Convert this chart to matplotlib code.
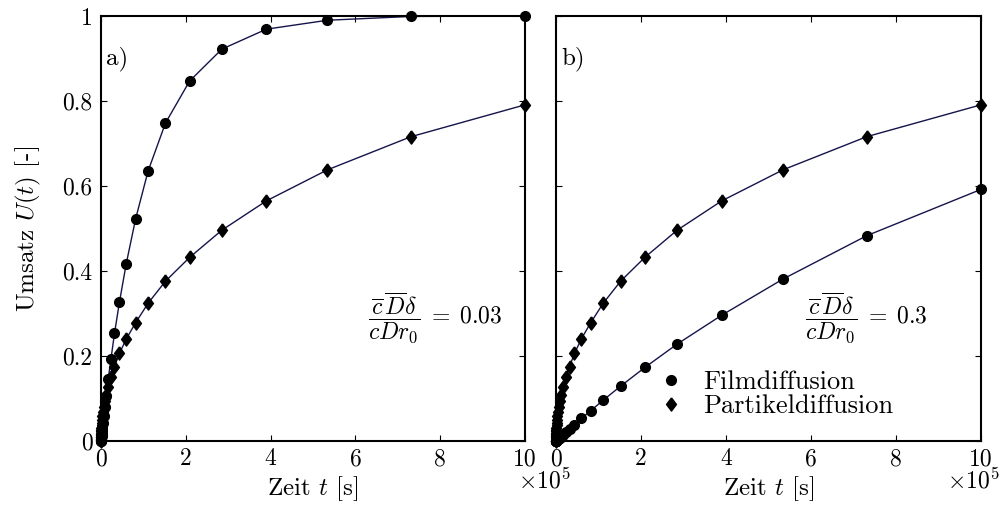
import matplotlib
matplotlib.use("Agg")
import matplotlib.pyplot as plt
from matplotlib.lines import Line2D

plt.rcParams['font.family'] = 'serif'
plt.rcParams['font.serif'] = ['cmr10', 'DejaVu Serif']
plt.rcParams['mathtext.fontset'] = 'cm'
plt.rcParams['axes.unicode_minus'] = False
plt.rcParams['axes.formatter.use_mathtext'] = True

# time points (units of 1e5 s)
t = [10, 7.31, 5.34, 3.90, 2.85, 2.09, 1.52, 1.11, 0.815, 0.595, 0.435, 0.318,
     0.233, 0.170, 0.124, 0.091, 0.066, 0.049, 0.035, 0.026, 0.019, 0.014,
     0.010, 0.0074, 0.0054, 0.0040, 0.0029, 0.0021, 0.0015, 0.0011, 0.0008, 0.0]

film_a = [1.000, 0.999, 0.990, 0.969, 0.922, 0.847, 0.748, 0.635, 0.522, 0.417,
          0.327, 0.253, 0.192, 0.146, 0.106, 0.079, 0.058, 0.043, 0.031, 0.023,
          0.017, 0.012, 0.009, 0.0066, 0.0048, 0.0036, 0.0026, 0.0019, 0.0013,
          0.0010, 0.0007, 0.0]

particle = [0.791, 0.716, 0.638, 0.565, 0.496, 0.432, 0.376, 0.324, 0.278, 0.240,
            0.206, 0.175, 0.150, 0.128, 0.109, 0.094, 0.080, 0.069, 0.058, 0.050,
            0.043, 0.037, 0.031, 0.027, 0.023, 0.020, 0.017, 0.014, 0.012, 0.010,
            0.009, 0.0]

film_b = [0.592, 0.483, 0.381, 0.296, 0.228, 0.173, 0.129, 0.096, 0.071, 0.053,
          0.038, 0.028, 0.021, 0.015, 0.011, 0.008, 0.006, 0.0044, 0.0031, 0.0023,
          0.0017, 0.0013, 0.0009, 0.0007, 0.0005, 0.0004, 0.0003, 0.0002, 0.0001,
          0.0001, 0.0001, 0.0]

xticks = [0, 2, 4, 6, 8, 10]
yticks = [0, 0.2, 0.4, 0.6, 0.8, 1]
yticklabels = ['0', '0.2', '0.4', '0.6', '0.8', '1']
panel_labels = ['a)', 'b)']
ratio_texts = [r'$\dfrac{\overline{c}\,\overline{D}\delta}{cDr_0}\;=\;0.03$',
               r'$\dfrac{\overline{c}\,\overline{D}\delta}{cDr_0}\;=\;0.3$']
legend_labels = ['Filmdiffusion', 'Partikeldiffusion']

W, H = 1001, 513
fig = plt.figure(figsize=(W / 100, H / 100), dpi=100)

def px_axes(x0, x1, y0, y1):
    return fig.add_axes([x0 / W, 1 - y1 / H, (x1 - x0) / W, (y1 - y0) / H])

ax_a = px_axes(101, 525, 16, 441)
ax_b = px_axes(556, 981, 16, 441)

line_col = '#14144a'
fs = 17
diamond = [(0, 1), (0.75, 0), (0, -1), (-0.75, 0), (0, 1)]

def style(ax):
    ax.set_xlim(0, 10)
    ax.set_ylim(0, 1)
    ax.set_xticks(xticks)
    ax.set_xticklabels([str(v) for v in xticks])
    ax.set_yticks(yticks)
    ax.tick_params(direction='in', top=True, right=True, length=4, width=0.8,
                   labelsize=fs)
    ax.tick_params(axis='x', pad=5)
    ax.tick_params(axis='y', pad=6)
    for s in ax.spines.values():
        s.set_linewidth(1.5)
    ax.set_xlabel(r'Zeit $t$ [s]', fontsize=fs + 1, labelpad=3)

def plot_series(ax, y, marker, ms):
    ax.plot(t, y, '-', color=line_col, lw=1.0, zorder=2)
    ax.plot(t, y, ls='none', marker=marker, ms=ms, color='black',
            markeredgecolor='black', zorder=3, clip_on=False)

plot_series(ax_a, film_a, 'o', 7)
plot_series(ax_a, particle, diamond, 9.5)
plot_series(ax_b, film_b, 'o', 7)
plot_series(ax_b, particle, diamond, 9.5)

for ax, lab, rt, rx in zip([ax_a, ax_b], panel_labels, ratio_texts, [0.63, 0.585]):
    style(ax)
    ax.text(0.012, 0.90, lab, transform=ax.transAxes, fontsize=fs + 1,
            ha='left', va='center')
    ax.text(rx, 0.29, rt, transform=ax.transAxes, fontsize=fs,
            ha='left', va='center')

# x10^5 exponent labels
exp_top = 1 - (441 + 27) / H
fig.text(518 / W, exp_top, r'$\times10^5$', fontsize=fs, ha='left', va='top')
fig.text(1000 / W, exp_top, r'$\times10^5$', fontsize=fs, ha='right', va='top')

ax_a.set_yticklabels(yticklabels)
ax_b.set_yticklabels([])
ax_a.set_ylabel(r'Umsatz $U(t)$ [-]', fontsize=fs + 1, labelpad=14)

handles = [Line2D([], [], ls='none', marker='o', ms=7, color='black'),
           Line2D([], [], ls='none', marker=diamond, ms=9.5, color='black')]
ax_b.legend(handles, legend_labels, loc='center left',
            bbox_to_anchor=(0.24, 0.11), frameon=False, fontsize=fs + 2,
            handlelength=1.0, handletextpad=0.7, labelspacing=0.0,
            borderpad=0, borderaxespad=0)

fig.savefig('out.png', dpi=100)
